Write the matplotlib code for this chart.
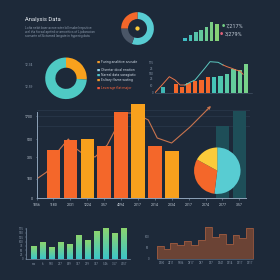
import numpy as np
import matplotlib as mpl
mpl.use('Agg')
import matplotlib.pyplot as plt
from matplotlib.colors import LinearSegmentedColormap

# ---- data ----
title = 'Analysis Data'
blurb = ['Lofia nebit baer acroe wter loll mabel repsitive',
         'wel ifia ficrsal aprfed or amositics of Lipdaracian',
         'somarte af Sictamed langate in hyperirg data']

ring_share = [55.6, 19.4, 25.0]          # teal, grey, orange
spark_vals = [3, 5.7, 8.3, 10.7, 14, 18.3, 16.7]
spark_legend = ['7,217%', '3,279%']

donut_share = [26, 74]                   # orange, teal
donut_labels = ['12.34', '12.59']
legend_items = ['Furing analitive anoude', 'Olsertar dical enation',
                'Nareal data saragiatic', 'Esltary flame wating',
                'Leverage flat major']

combo_bars = [6, 0, 9, 6.6, 10, 12.3, 13.3, 16.6, 16, 17.6, 19, 24.3, 23.3, 29.3]
combo_x = [-1.25, -0.16, 0.98, 1.88, 2.66, 3.44, 4.22, 5.0, 5.78, 6.56, 7.34,
           8.6, 9.38, 10.0, 10.73, 11.4, 12.03, 12.5]
combo_y = [0.6, 8.3, 16.6, 13.3, 8.3, 8.3, 11, 13.3, 19.3, 25.3, 31.6,
           31, 28.3, 26.6, 25, 23.3, 22.3, 19]
combo_ticks = ['0', '50', '25', '150', '25', '175']
combo_tick_vals = [0.6, 7.6, 14.3, 19.3, 24.3, 30.6]

main_labels = ['1056', '1180', '2031', '1224', '3.57', '4094', '2017',
               '2014', '2034', '2017', '2074', '2077', '3.57']
main_bars = [0, 48, 58, 59, 52, 86, 94, 52, 47, 0, 0, 0, 0]
ghost_bars = [0, 0, 0, 0, 0, 0, 0, 0, 0, 0, 0, 72, 87]
trend_x = [0.0, 0.6, 1.33, 1.88, 2.21, 2.76, 3.46, 4.18, 4.74, 5.23, 5.82,
           6.61, 7.14, 7.99, 9.08, 10.08]
trend_y = [19, 26, 48, 59, 51, 44, 41, 53, 71, 85, 85, 78, 60, 55, 71, 88]
trend_tip = (10.32, 92)
main_yticks = ['0', '100', '305', '500', '1700']
main_ytick_vals = [0, 19, 41, 59, 82]
pie_share = [52, 31, 17]                 # teal, orange, yellow

bl_vals = [13, 16.3, 11.7, 16.7, 15, 24, 19, 28, 30.7, 25.7, 30.3]
bl_labels = ['ᴍᴍ', '6', '190', '237', '269', '317', '219', '357', '5.46', '3.57', '7057']
bl_ticks = ['0', '25', '50', '75', '100', '125', '150', '175']

step_vals = [57, 43, 71, 61, 78, 61, 83, 138, 97, 109, 65, 104, 90, 136]
step_labels = ['2000', '2411', '1906', '2917', '297', '207', '2041',
               '2014', '2017', '2017']
step_ticks = ['0', '50', '100']

# ---- style ----
BG = '#1d2939'
TXT = '#c2ccd7'
DIM = '#8593a5'
ORANGE = '#f4672a'
AMBER = '#f8a11d'
TEAL = '#58ccd2'
YELLOW = '#fbcb3a'
AXC = '#8ea2b8'

plt.rcParams['font.family'] = ['Roboto', 'DejaVu Sans']
W = H = 280
fig = plt.figure(figsize=(2.8, 2.8), dpi=100, facecolor=BG)


def px_axes(x0, y0, x1, y1):
    ax = fig.add_axes([x0 / W, 1 - y1 / H, (x1 - x0) / W, (y1 - y0) / H])
    ax.set_facecolor('none')
    return ax


def ftext(x, y, s, **kw):
    fig.text(x / W, 1 - y / H, s, va='center', **kw)


def bare(ax):
    for s in ax.spines.values():
        s.set_visible(False)
    ax.set_xticks([])
    ax.set_yticks([])


# ---- header ----
ftext(25, 19, title, fontsize=4.2, color='#e8edf3')
for row, line in enumerate(blurb):
    ftext(25, 28 + 4 * row, line, fontsize=2.3, color=DIM)

# top ring
ax = px_axes(120.8, 11.8, 154.2, 45.2)
ax.pie(ring_share, colors=[TEAL, '#4a5667', ORANGE], startangle=90,
       counterclock=False, wedgeprops=dict(width=0.42))
ax.pie([1], radius=0.13, colors=[YELLOW])
ax.set_xlim(-1.02, 1.02)
ax.set_ylim(-1.02, 1.02)

# spark bars
ax = px_axes(182, 20, 221, 40.7)
spark_cm = LinearSegmentedColormap.from_list('sp', ['#3fbcc4', '#86d277'])
ax.bar(range(len(spark_vals)), spark_vals, width=0.66,
       color=spark_cm(np.linspace(0, 1, len(spark_vals))))
ax.set_xlim(-0.6, 6.75)
ax.set_ylim(0, 20.7)
bare(ax)
ftext(221.5, 25.7, '●', fontsize=2.6, color='#74cf86')
ftext(226, 25.7, spark_legend[0], fontsize=4.0, color=TXT)
ftext(220, 34.3, '●', fontsize=2.6, color='#e0627a')
ftext(224.5, 34.3, spark_legend[1], fontsize=4.0, color=TXT)

# ---- left donut ----
ax = px_axes(44.8, 57.1, 87.2, 99.5)
ax.pie(donut_share, colors=[AMBER, '#4fcac4'], startangle=90,
       counterclock=False, wedgeprops=dict(width=0.49))
ax.set_xlim(-1.02, 1.02)
ax.set_ylim(-1.02, 1.02)
ftext(25, 65, donut_labels[0], fontsize=2.4, color=DIM)
ftext(25, 87.3, donut_labels[1], fontsize=2.4, color=DIM)

mark_cols = ['#f29a2a', '#8fd0e8', '#4ec3c8', '#f29a2a', '#f0553a']
text_cols = [TXT, TXT, TXT, TXT, '#f0603a']
for y, s, mc, tc in zip([61.7, 69.7, 75, 80.3, 88.3], legend_items, mark_cols, text_cols):
    ftext(97, y, '■', fontsize=2.4, color=mc)
    ftext(101, y, s, fontsize=2.5, color=tc)

# ---- combo chart ----
ax = px_axes(154.7, 58, 252, 93.3)
cx = np.arange(len(combo_bars))
combo_cm = LinearSegmentedColormap.from_list('cb', ['#45c4b8', '#78d28a'])
cols = ['#3fb7b5', 'none'] + [ORANGE] * 6 + list(combo_cm(np.linspace(0, 1, 6)))
ax.bar(cx, combo_bars, width=0.7, color=cols, zorder=2)
ax.plot(combo_x[:6], combo_y[:6], color='#e8744a', lw=0.7, zorder=3)
ax.plot(combo_x[5:13], combo_y[5:13], color='#5cc8c0', lw=0.7, zorder=3)
ax.plot(combo_x[12:], combo_y[12:], color='#e8744a', lw=0.7, zorder=3)
ax.set_xlim(-1.3, 13.9)
ax.set_ylim(0, 35.3)
for s in ax.spines.values():
    s.set_visible(False)
ax.spines['bottom'].set_visible(True)
ax.spines['bottom'].set_color('#4d5d70')
ax.spines['bottom'].set_linewidth(0.4)
ax.set_xticks([])
ax.set_yticks(combo_tick_vals, combo_ticks)
ax.tick_params(axis='y', length=0, pad=1, labelsize=2.2, labelcolor=DIM)

# ---- main chart ----
ax = px_axes(36.6, 98, 250, 198)
k = np.arange(len(main_labels))
for v in (72, 82, 88):
    ax.axhline(v, color='#2a3a4c', lw=0.5, zorder=0)
ax.bar(k, ghost_bars, width=0.8, color='#1e4e58', zorder=1)
ax.plot(trend_x, trend_y, color='#c8744e', lw=0.8, zorder=2)
ax.annotate('', xy=trend_tip, xytext=(trend_x[-1], trend_y[-1]),
            arrowprops=dict(arrowstyle='-|>', color='#c8744e', lw=0.8,
                            mutation_scale=4, shrinkA=0, shrinkB=0), zorder=2)
main_cols = [AMBER if i in (3, 6, 8) else ORANGE for i in k]
ax.bar(k, main_bars, width=0.8, color=main_cols, zorder=3)
ax.set_xlim(0, 12.63)
ax.set_ylim(0, 100)
for s in ('top', 'right'):
    ax.spines[s].set_visible(False)
ax.spines['left'].set_bounds(0, 86)
ax.spines['bottom'].set_bounds(0, 12.4)
for s in ('left', 'bottom'):
    ax.spines[s].set_color(AXC)
    ax.spines[s].set_linewidth(0.7)
ax.set_xticks(k, main_labels)
ax.set_yticks(main_ytick_vals, main_yticks)
ax.tick_params(axis='x', length=1.2, width=0.4, color=AXC, pad=2.5,
               labelsize=2.5, labelcolor=TXT)
ax.tick_params(axis='y', length=1, width=0.4, color=AXC, pad=1.5,
               labelsize=2.5, labelcolor=TXT)

ax = px_axes(193.6, 147, 241, 194.4)
ax.pie(pie_share, colors=[TEAL, ORANGE, YELLOW], startangle=90,
       counterclock=False, wedgeprops=dict(linewidth=0))
ax.set_xlim(-1.02, 1.02)
ax.set_ylim(-1.02, 1.02)

# ---- bottom left gradient bars ----
ax = px_axes(26, 222, 130, 259)
bx = np.arange(len(bl_vals))
grad_cm = LinearSegmentedColormap.from_list('gr', ['#3cc6c9', '#8bd46f'])
grad = np.linspace(0, 1, 64).reshape(-1, 1)
for b in ax.bar(bx, bl_vals, width=0.58, color='none'):
    x0, h = b.get_x(), b.get_height()
    ax.imshow(grad, extent=(x0, x0 + b.get_width(), 0, h), origin='lower',
              cmap=grad_cm, aspect='auto', zorder=2)
ax.set_xlim(-0.83, 10.7)
ax.set_ylim(0, 37)
for s in ('top', 'right'):
    ax.spines[s].set_visible(False)
ax.spines['left'].set_bounds(0, 31)
for s in ('left', 'bottom'):
    ax.spines[s].set_color('#7f92a8')
    ax.spines[s].set_linewidth(0.5)
ax.set_xticks(bx, bl_labels)
ax.set_yticks(np.linspace(0, 30.4, len(bl_ticks)), bl_ticks)
ax.tick_params(length=0.8, width=0.3, color='#7f92a8', pad=1.2,
               labelsize=2.1, labelcolor=DIM)

# ---- bottom right step area ----
ax = px_axes(150, 222, 255, 259)
edges = np.linspace(-0.51, 9.33, len(step_vals) + 1)
ax.stairs(step_vals, edges, fill=True, color='#6b4335', zorder=1)
ax.stairs(step_vals, edges, color='#9c5a40', lw=0.6, zorder=2)
ax.set_xlim(-1.19, 9.51)
ax.set_ylim(0, 161)
for s in ax.spines.values():
    s.set_visible(False)
ax.spines['bottom'].set_visible(True)
ax.spines['bottom'].set_bounds(-0.51, 9.33)
ax.spines['bottom'].set_color('#6d7f94')
ax.spines['bottom'].set_linewidth(0.4)
ax.set_xticks(range(len(step_labels)), step_labels)
ax.set_yticks([0, 50, 100], step_ticks)
ax.tick_params(axis='x', length=0, pad=1.5, labelsize=2.1, labelcolor=DIM)
ax.tick_params(axis='y', length=0, pad=0.5, labelsize=2.1, labelcolor=DIM)

fig.savefig('out.png', dpi=100, facecolor=BG)
plt.close(fig)
